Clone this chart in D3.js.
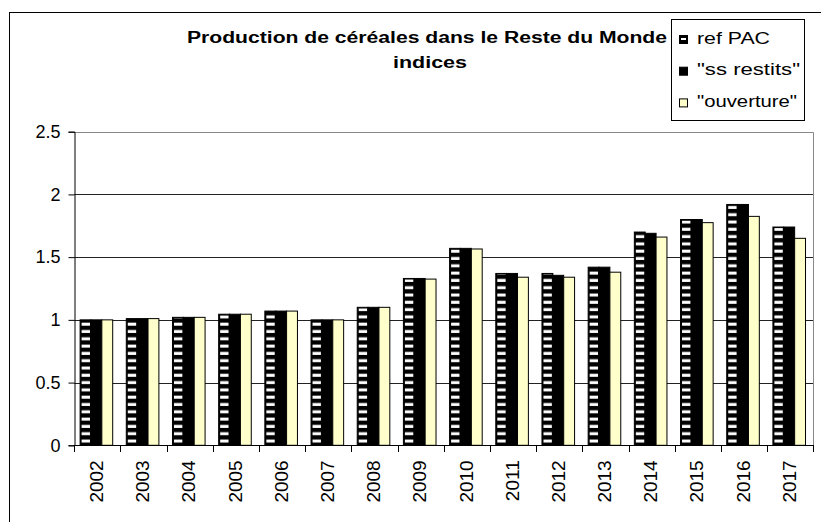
<!DOCTYPE html>
<html>
<head>
<meta charset="utf-8">
<script src="https://cdn.jsdelivr.net/npm/d3@7"></script>
<style>
  body { margin: 0; background: #fff; }
  text { font-family: "Liberation Sans", Arial, sans-serif; fill: #000; }
</style>
</head>
<body>
<div id="chart"></div>
<script>
const width = 821;
const height = 522;

const years = ["2002", "2003", "2004", "2005", "2006", "2007", "2008", "2009",
               "2010", "2011", "2012", "2013", "2014", "2015", "2016", "2017"];
const refPac = [1.00, 1.01, 1.02, 1.045, 1.07, 1.00, 1.10, 1.33, 1.57, 1.37, 1.37, 1.42, 1.70, 1.80, 1.92, 1.74];
const ssRestits = [1.00, 1.01, 1.02, 1.045, 1.07, 1.00, 1.10, 1.33, 1.57, 1.37, 1.355, 1.42, 1.69, 1.80, 1.92, 1.74];
const ouverture = [1.00, 1.01, 1.02, 1.045, 1.07, 1.00, 1.10, 1.325, 1.565, 1.34, 1.34, 1.38, 1.66, 1.775, 1.825, 1.65];
const seriesNames = ["ref PAC", "\"ss restits\"", "\"ouverture\""];
const yTicks = [0, 0.5, 1, 1.5, 2, 2.5];

const series = [
    { name: seriesNames[0], values: refPac, fill: "#000" },
    { name: seriesNames[1], values: ssRestits, fill: "#000" },
    { name: seriesNames[2], values: ouverture, fill: "#FFFFCC" }
];

const plot = { left: 74.3, right: 813.3, top: 131.7, bottom: 445.3 };

const svg = d3.select("#chart").append("svg")
    .attr("width", width)
    .attr("height", height)
    .style("display", "block");

// stripes for "ref PAC"
svg.append("defs").append("pattern")
    .attr("id", "stripes")
    .attr("patternUnits", "userSpaceOnUse")
    .attr("width", 10).attr("height", 7.3)
    .append("rect")
    .attr("x", 0).attr("y", 1.5)
    .attr("width", 10).attr("height", 3)
    .attr("fill", "#fff");

// chart area border (only left and top visible)
svg.append("rect")
    .attr("x", 9.5).attr("y", 12.5)
    .attr("width", 900).attr("height", 600)
    .attr("fill", "none")
    .attr("stroke", "#000");

const x0 = d3.scaleBand().domain(years).range([plot.left, plot.right]);
const x1 = d3.scaleBand().domain(seriesNames).range([5.8, 38.4]);
const y = d3.scaleLinear().domain([0, 2.5]).range([plot.bottom, plot.top]);

// gridlines
svg.append("g")
    .selectAll("line")
    .data(yTicks.filter(t => t > 0 && t < 2.5))
    .enter().append("line")
    .attr("x1", plot.left).attr("x2", plot.right)
    .attr("y1", d => Math.round(y(d)) + 0.5)
    .attr("y2", d => Math.round(y(d)) + 0.5)
    .attr("stroke", "#222");

// plot area border (top/right gray)
svg.append("path")
    .attr("d", `M${plot.left},${Math.round(plot.top) + 0.5}H${Math.round(plot.right) + 0.5}V${plot.bottom}`)
    .attr("fill", "none")
    .attr("stroke", "#888");

// bars
const groups = svg.append("g")
    .selectAll("g")
    .data(years)
    .enter().append("g")
    .attr("transform", d => `translate(${x0(d)},0)`);

groups.selectAll("rect.bar")
    .data((d, i) => series.map(s => ({ name: s.name, value: s.values[i], fill: s.fill })))
    .enter().append("rect")
    .attr("class", "bar")
    .attr("x", d => x1(d.name))
    .attr("y", d => y(d.value))
    .attr("width", x1.bandwidth())
    .attr("height", d => y(0) - y(d.value))
    .attr("fill", d => d.fill)
    .attr("stroke", "#000")
    .attr("stroke-width", 1);

groups.selectAll("rect.stripe")
    .data((d, i) => [{ name: seriesNames[0], value: refPac[i] }])
    .enter().append("rect")
    .attr("class", "stripe")
    .attr("x", d => x1(d.name) + 1.5)
    .attr("y", d => y(d.value) + 1)
    .attr("width", x1.bandwidth() - 2.5)
    .attr("height", d => y(0) - y(d.value) - 1)
    .attr("fill", "url(#stripes)");

// y axis
const yAxis = svg.append("g")
    .attr("transform", `translate(${Math.round(plot.left) + 0.5},0)`)
    .call(d3.axisLeft(y).tickValues(yTicks).tickSize(6).tickPadding(8)
        .tickFormat(d => d === 0 ? "0" : String(d)));
yAxis.select(".domain").attr("stroke", "#000");
yAxis.selectAll(".tick line").attr("stroke", "#000");
yAxis.selectAll("text")
    .style("font-size", "18px")
    .style("font-family", "Liberation Sans, Arial, sans-serif")
    .attr("fill", "#000");

// x axis with ticks at category boundaries
svg.append("line")
    .attr("x1", plot.left).attr("x2", plot.right)
    .attr("y1", Math.round(plot.bottom) + 0.5).attr("y2", Math.round(plot.bottom) + 0.5)
    .attr("stroke", "#000");

svg.append("g")
    .selectAll("line")
    .data(years.concat(["end"]))
    .enter().append("line")
    .attr("x1", d => Math.round(d === "end" ? plot.right : x0(d)) + 0.5)
    .attr("x2", d => Math.round(d === "end" ? plot.right : x0(d)) + 0.5)
    .attr("y1", Math.round(plot.bottom))
    .attr("y2", Math.round(plot.bottom) + 7)
    .attr("stroke", "#000");

svg.append("g")
    .selectAll("text")
    .data(years)
    .enter().append("text")
    .attr("transform", d => `translate(${x0(d) + x0.bandwidth() / 2 - 1},${plot.bottom + 15}) rotate(-90)`)
    .attr("text-anchor", "end")
    .attr("dy", "0.35em")
    .style("font-size", "19px")
    .text(d => d);

// title
svg.append("text")
    .attr("x", 187).attr("y", 42.5)
    .attr("textLength", 480)
    .attr("lengthAdjust", "spacingAndGlyphs")
    .style("font-size", "16px")
    .style("font-weight", "bold")
    .text("Production de céréales dans le Reste du Monde");

svg.append("text")
    .attr("x", 393).attr("y", 68)
    .attr("textLength", 74)
    .attr("lengthAdjust", "spacingAndGlyphs")
    .style("font-size", "16px")
    .style("font-weight", "bold")
    .text("indices");

// legend
const legend = svg.append("g");
legend.append("rect")
    .attr("x", 671.5).attr("y", 19.5)
    .attr("width", 133).attr("height", 101)
    .attr("fill", "#fff")
    .attr("stroke", "#000");

const legendWidths = [73, 103, 100];
const legendItems = legend.selectAll("g.item")
    .data(series)
    .enter().append("g")
    .attr("class", "item")
    .attr("transform", (d, i) => `translate(0,${43.5 + i * 31.7})`);

legendItems.append("rect")
    .attr("x", 679.5).attr("y", -8)
    .attr("width", 8).attr("height", 8)
    .attr("fill", d => d.fill)
    .attr("stroke", "#000");

legendItems.filter((d, i) => i === 0).append("rect")
    .attr("x", 681).attr("y", -5.5)
    .attr("width", 5).attr("height", 2)
    .attr("fill", "#fff");

legendItems.append("text")
    .attr("x", 697).attr("y", 0)
    .attr("textLength", (d, i) => legendWidths[i])
    .attr("lengthAdjust", "spacingAndGlyphs")
    .style("font-size", "17px")
    .text(d => d.name);
</script>
</body>
</html>
